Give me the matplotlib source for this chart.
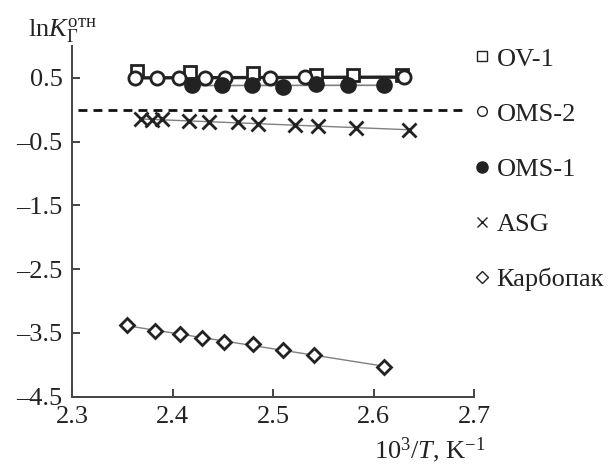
import numpy as np
import matplotlib
matplotlib.use('Agg')
import matplotlib.pyplot as plt
from matplotlib.lines import Line2D
from matplotlib.ticker import FuncFormatter

plt.rcParams['font.family'] = ['Liberation Serif', 'DejaVu Serif']
plt.rcParams['mathtext.fontset'] = 'custom'
plt.rcParams['mathtext.rm'] = 'Liberation Serif'
plt.rcParams['mathtext.it'] = 'Liberation Serif:italic'

# 10^3/T и ln K отн для каждого сорбента
ov1_x = [2.364, 2.417, 2.480, 2.543, 2.580, 2.628]
ov1_y = [0.60, 0.59, 0.57, 0.55, 0.54, 0.54]

oms2_x = [2.362, 2.384, 2.406, 2.432, 2.452, 2.497, 2.532, 2.630]
oms2_y = [0.50, 0.50, 0.50, 0.50, 0.50, 0.50, 0.51, 0.51]

oms1_x = [2.419, 2.449, 2.479, 2.510, 2.543, 2.575, 2.610]
oms1_y = [0.38, 0.38, 0.38, 0.36, 0.40, 0.38, 0.38]

asg_x = [2.368, 2.379, 2.389, 2.416, 2.436, 2.465, 2.485, 2.522, 2.545, 2.583, 2.635]
asg_y = [-0.15, -0.16, -0.15, -0.18, -0.19, -0.20, -0.22, -0.24, -0.26, -0.28, -0.32]

carb_x = [2.354, 2.382, 2.407, 2.429, 2.451, 2.480, 2.510, 2.541, 2.610]
carb_y = [-3.38, -3.47, -3.51, -3.58, -3.64, -3.68, -3.76, -3.85, -4.03]

names = ['OV-1', 'OMS-2', 'OMS-1', 'ASG', 'Карбопак']

dark = '#222222'
grey = '#808080'

fig = plt.figure(figsize=(6.16, 4.67), dpi=100)
ax = fig.add_axes([0.1174, 0.1505, 0.652, 0.7513])

# маркер, размер, заливка, цвет и толщина линии тренда (None - без линии)
series = [
    (ov1_x, ov1_y, 's', 8.5, 'white', None, 0),
    (oms2_x, oms2_y, 'o', 9.5, 'white', dark, 2.4),
    (oms1_x, oms1_y, 'o', 10, dark, grey, 1.2),
    (asg_x, asg_y, 'x', 10, 'none', grey, 1.0),
    (carb_x, carb_y, 'D', 7.5, 'white', grey, 1.0),
]

# линейные аппроксимации
for xs, ys, m, ms, fc, lc, lw in series:
    if lc is None:
        continue
    k, b = np.polyfit(xs, ys, 1)
    xx = np.array([min(xs), max(xs)])
    ax.plot(xx, k * xx + b, color=lc, lw=lw, zorder=2, solid_capstyle='butt')

for xs, ys, m, ms, fc, lc, lw in series:
    ax.plot(xs, ys, ls='none', marker=m, ms=ms, mfc=fc, mec=dark,
            mew=2.0, zorder=3)

ax.plot([2.306, 2.690], [0, 0], color='#111111', lw=2.0, ls=(0, (3.2, 2.2)),
        zorder=1)

ax.set_xlim(2.3, 2.7)
ax.set_ylim(-4.5, 1.0)
ax.set_xticks([2.3, 2.4, 2.5, 2.6, 2.7])
ax.set_yticks([0.5, -0.5, -1.5, -2.5, -3.5, -4.5])
fmt = FuncFormatter(lambda v, pos: ('%.1f' % v).replace('-', '\u2013'))
ax.xaxis.set_major_formatter(fmt)
ax.yaxis.set_major_formatter(fmt)

for s in ['top', 'right']:
    ax.spines[s].set_visible(False)
for s in ['left', 'bottom']:
    ax.spines[s].set_color('#444444')
    ax.spines[s].set_linewidth(1.4)
ax.tick_params(direction='in', length=6, width=1.4, color='#444444',
               labelsize=19, labelcolor='#222222', pad=7)

handles = [
    Line2D([], [], ls='none', marker='s', ms=7, mfc='white', mec=dark, mew=1),
    Line2D([], [], ls='none', marker='o', ms=7, mfc='white', mec=dark, mew=1),
    Line2D([], [], ls='none', marker='o', ms=8, mfc=dark, mec=dark, mew=1),
    Line2D([], [], ls='none', marker='x', ms=7, mec=dark, mew=1),
    Line2D([], [], ls='none', marker='D', ms=6.5, mfc='white', mec=dark, mew=1),
]
fig.legend(handles, names, loc='upper left', bbox_to_anchor=(0.731, 0.95),
           frameon=False, fontsize=19, labelspacing=1.2, handlelength=0.6,
           handletextpad=0.25, labelcolor='#222222')

fig.text(0.045, 0.935, r'ln$K_{\mathrm{Г}}^{\mathrm{отн}}$', fontsize=19,
         color='#222222', va='center')
fig.text(0.788, 0.036, r'$10^3/T$, K$^{-1}$', fontsize=19, color='#222222',
         ha='right', va='center')

fig.savefig('out.png', dpi=100)
